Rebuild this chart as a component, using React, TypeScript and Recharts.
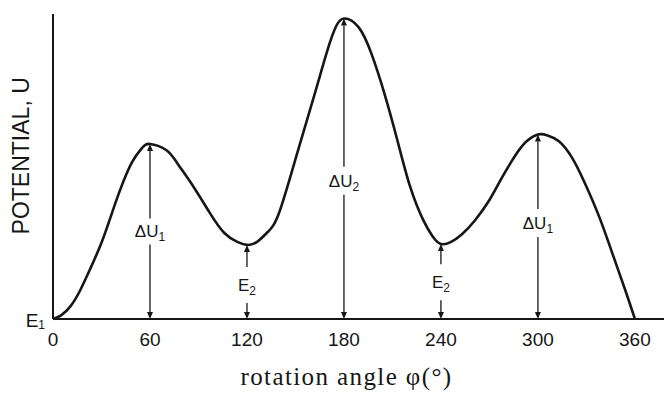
import React from 'react';
import { LineChart, Line, XAxis, YAxis, ReferenceLine, ReferenceDot } from 'recharts';

// rotation angle (degrees) and potential (arbitrary units) along the curve
const angles = [
  0, 5, 11, 17, 23, 30, 36, 42, 49, 55,
  60, 70, 77, 87, 97, 106, 114,
  120, 126, 133, 140, 151, 162, 170, 175,
  180, 189, 197, 205, 213, 221, 229, 235,
  240, 246, 253, 261, 270, 278, 287, 293,
  300, 306, 313, 321, 329, 338, 346, 354,
  360,
];
const potential = [
  0, 1.2, 4.3, 9.6, 16.4, 25, 34, 43, 51.5, 56,
  57.4, 55.4, 51, 43.3, 34.8, 28.2, 25.3,
  24.3, 25.2, 28.6, 35, 54.2, 74, 88.5, 95.8,
  98.5, 95.7, 87, 74, 58.7, 43.3, 32.5, 27,
  24.6, 25.2, 27.8, 32.3, 39, 46.6, 54.4, 58.3,
  60.5, 60.2, 58.3, 53, 44.6, 33.4, 21.6, 9.5,
  0,
];

const angleTicks = [0, 60, 120, 180, 240, 300, 360];

// extrema marked with arrows
const markAngles = [60, 120, 180, 240, 300];
const markNames = ['\u0394U', 'E', '\u0394U', 'E', '\u0394U'];
const markSubs = ['1', '2', '2', '2', '1'];

const data = angles.map((a, i) => ({ angle: a, u: potential[i] }));
const valueAt = (a: number) => potential[angles.indexOf(a)];

const INK = '#161616';
const SANS = '"Liberation Sans", Arial, sans-serif';

// vertical double arrow from the axis up to the curve, broken around its label
const MarkArrow = (p: any) => {
  const { x1, y1, y2, name, sub, frac, gap } = p;
  const x = x1;
  const head = 7;
  const half = 3;
  const ly = y1 + (y2 - y1) * frac;
  return (
    <g>
      <line x1={x} y1={y1 - head} x2={x} y2={ly + gap} stroke={INK} strokeWidth={1.3} />
      <line x1={x} y1={ly - gap} x2={x} y2={y2 + head} stroke={INK} strokeWidth={1.3} />
      <polygon points={`${x},${y1} ${x - half},${y1 - head} ${x + half},${y1 - head}`} fill={INK} />
      <polygon points={`${x},${y2} ${x - half},${y2 + head} ${x + half},${y2 + head}`} fill={INK} />
      <text x={x} y={ly + 6} textAnchor="middle" fontSize={17} fill={INK} fontFamily={SANS}>
        {name}
        <tspan fontSize={12} dy={4}>{sub}</tspan>
      </text>
    </g>
  );
};

const labelFrac = [0.5, 0.46, 0.46, 0.49, 0.52];
const labelGap = [13, 18, 14, 18, 14];

export default function App() {
  return (
    <div style={{ position: 'absolute', left: 0, top: 0, background: '#fff' }}>
      <LineChart
        width={664}
        height={395}
        data={data}
        margin={{ top: 14, right: 0, bottom: 0, left: 13 }}
        style={{ fontFamily: SANS }}
      >
        <XAxis
          type="number"
          dataKey="angle"
          domain={[0, 378]}
          ticks={angleTicks}
          height={76}
          tickLine={false}
          tickSize={6}
          tickMargin={8}
          axisLine={{ stroke: INK, strokeWidth: 2 }}
          tick={{ fill: INK, fontSize: 19, fontFamily: SANS }}
          label={{
            content: (lp: any) => {
              const vb = lp.viewBox;
              return (
                <text
                  x={vb.x + vb.width / 2 - 12}
                  y={vb.y + 66}
                  textAnchor="middle"
                  fontSize={25}
                  letterSpacing={1.4}
                  fill={INK}
                  fontFamily='"Liberation Serif", "Times New Roman", serif'
                >
                  rotation angle {'\u03C6'}(°)
                </text>
              );
            },
          }}
        />
        <YAxis
          type="number"
          domain={[0, 100]}
          width={40}
          tick={false}
          tickLine={false}
          axisLine={{ stroke: INK, strokeWidth: 2 }}
          label={{
            content: (lp: any) => {
              const vb = lp.viewBox;
              const x = vb.x + vb.width - 24;
              const y = vb.y + vb.height * 0.465;
              return (
                <text
                  x={x}
                  y={y}
                  transform={`rotate(-90 ${x} ${y})`}
                  textAnchor="middle"
                  fontSize={23}
                  fill={INK}
                  fontFamily={SANS}
                >
                  POTENTIAL, U
                </text>
              );
            },
          }}
        />
        <Line
          type="natural"
          dataKey="u"
          stroke={INK}
          strokeWidth={2.6}
          dot={false}
          activeDot={false}
          isAnimationActive={false}
        />
        {markAngles.map((a, i) => (
          <ReferenceLine
            key={a}
            segment={[{ x: a, y: 0 }, { x: a, y: valueAt(a) }]}
            ifOverflow="visible"
            shape={(sp: any) => (
              <MarkArrow
                {...sp}
                name={markNames[i]}
                sub={markSubs[i]}
                frac={labelFrac[i]}
                gap={labelGap[i]}
              />
            )}
          />
        ))}
        <ReferenceDot
          x={0}
          y={0}
          r={0}
          ifOverflow="visible"
          shape={(dp: any) => (
            <text x={dp.cx - 8} y={dp.cy + 8} textAnchor="end" fontSize={19} fill={INK} fontFamily={SANS}>
              E
              <tspan fontSize={12} dy={2}>1</tspan>
            </text>
          )}
        />
      </LineChart>
    </div>
  );
}
